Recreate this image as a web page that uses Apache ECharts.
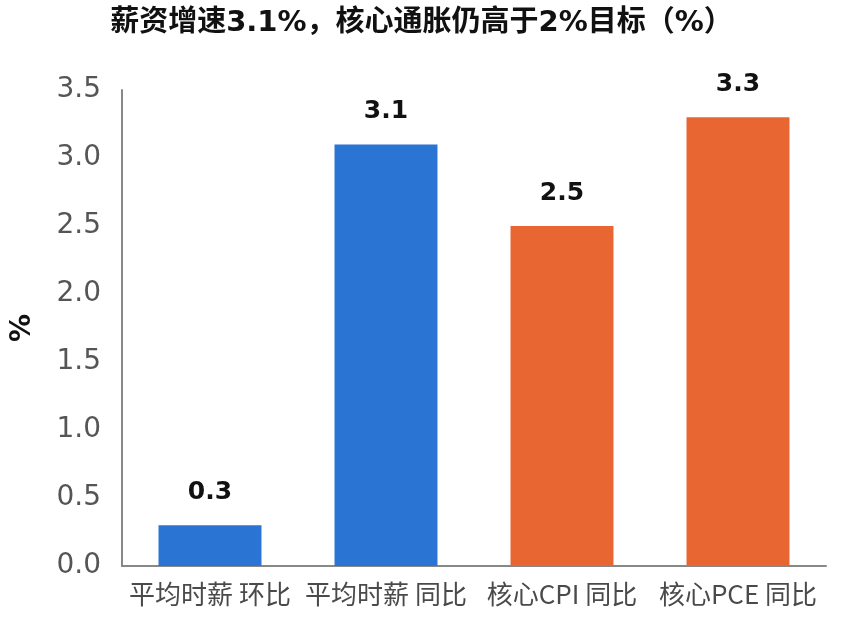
<!DOCTYPE html>
<html>
<head>
<meta charset="utf-8">
<script src="https://cdn.jsdelivr.net/npm/echarts@6/dist/echarts.min.js"></script>
<style>
  html, body { margin: 0; padding: 0; background: #fff; }
  #chart { width: 843px; height: 626px; }
</style>
</head>
<body>
<div id="chart"></div>
<script>
var categories = ['平均时薪 环比', '平均时薪 同比', '核心CPI 同比', '核心PCE 同比'];
var values = [0.3, 3.1, 2.5, 3.3];
var barColors = ['#2a74d4', '#2a74d4', '#e86632', '#e86632'];

var myChart = echarts.init(document.getElementById('chart'));
var font = '"DejaVu Sans", "Noto Sans CJK SC", sans-serif';

var option = {
    animation: false,
    title: {
        text: '薪资增速3.1%，核心通胀仍高于2%目标（%）',
        left: 'center',
        top: 4,
        textStyle: { fontFamily: font, fontSize: 29, fontWeight: 'bold', color: '#111' }
    },
    grid: { left: 122, right: 17, top: 90, bottom: 60 },
    xAxis: {
        type: 'category',
        data: categories,
        axisLine: { lineStyle: { color: '#888', width: 2 } },
        axisTick: { show: false },
        axisLabel: {
            fontFamily: '"Noto Sans CJK SC", "DejaVu Sans", sans-serif',
            fontSize: 26, color: '#4a4a4a', margin: 15, interval: 0
        }
    },
    yAxis: {
        type: 'value',
        min: 0,
        max: 3.5,
        interval: 0.5,
        name: '%',
        nameLocation: 'middle',
        nameGap: 85,
        nameTextStyle: { fontFamily: font, fontSize: 28, fontWeight: 'bold', color: '#111' },
        axisLine: { show: true, lineStyle: { color: '#888', width: 2 } },
        axisTick: { show: false },
        splitLine: { show: false },
        axisLabel: {
            fontFamily: font, fontSize: 28, color: '#555', margin: 21,
            formatter: function (v) { return v.toFixed(1); }
        }
    },
    series: [{
        type: 'bar',
        barWidth: '58.5%',
        data: values.map(function (v, i) {
            return { value: v, itemStyle: { color: barColors[i] } };
        }),
        label: {
            show: true,
            position: 'top',
            distance: 20,
            fontFamily: font,
            fontSize: 25,
            fontWeight: 'bold',
            color: '#111',
            formatter: function (p) { return p.value.toFixed(1); }
        }
    }]
};
myChart.setOption(option);
</script>
</body>
</html>
